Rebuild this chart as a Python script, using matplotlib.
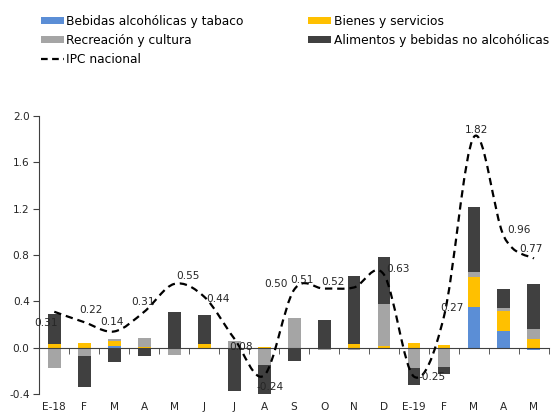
import numpy as np
import matplotlib
matplotlib.use("Agg")
import matplotlib.pyplot as plt
from matplotlib.path import Path
from matplotlib.patches import PathPatch
from matplotlib.lines import Line2D

months = ["E-18", "F", "M", "A", "M", "J", "J", "A", "S", "O", "N", "D",
          "E-19", "F", "M", "A", "M"]

bebidas = [0.0, 0.0, 0.012, 0.0, 0.0, 0.0, 0.0, 0.0, 0.0, 0.0, 0.0, 0.0,
           0.0, 0.0, 0.351, 0.141, -0.02]
bienes = [0.03, 0.043, 0.045, 0.01, 0.0, 0.03, 0.0, 0.01, 0.0, 0.0, 0.028, 0.012,
          0.037, 0.02, 0.259, 0.173, 0.072]
recreacion = [-0.174, -0.072, 0.017, 0.074, -0.064, 0.0, 0.06, -0.15, 0.253, -0.017, -0.023, 0.368,
              -0.178, -0.17, 0.043, 0.029, 0.092]
alimentos = [0.26, -0.267, -0.12, -0.07, 0.307, 0.248, -0.374, -0.26, -0.112, 0.236, 0.595, 0.40,
             -0.144, -0.057, 0.565, 0.164, 0.389]

ipc = [0.31, 0.22, 0.14, 0.31, 0.55, 0.44, 0.08, -0.24, 0.50, 0.51, 0.52, 0.63,
       -0.25, 0.27, 1.82, 0.96, 0.77]

series_names = ["Bebidas alcohólicas y tabaco", "Bienes y servicios",
                "Recreación y cultura", "Alimentos y bebidas no alcohólicas"]
colors = ["#5B8ED6", "#FFC000", "#A5A5A5", "#404040"]

# label offsets (points) for the IPC values
label_off = [(-6, -8), (5, 9), (-2, 7), (-1, 7), (10, 6), (10, -2), (5, -6), (4, -8),
             (-13, 4), (-16, 6), (-15, 4), (10, 4), (13, 0), (6, 6), (2, 5), (11, 5), (-2, 7)]

plt.rcParams['font.family'] = ['DejaVu Sans']
fs = 7.6

fig = plt.figure(figsize=(5.55, 4.12), dpi=100)
ax = fig.add_axes([0.0708, 0.0437, 0.9182, 0.6747])

x = np.arange(len(months))
pos_base = np.zeros(len(months))
neg_base = np.zeros(len(months))
handles = []
for vals, name, c in zip([bebidas, bienes, recreacion, alimentos], series_names, colors):
    v = np.array(vals)
    bottom = np.where(v >= 0, pos_base, neg_base)
    b = ax.bar(x, v, 0.43, bottom=bottom, color=c, label=name, zorder=2)
    handles.append(b)
    pos_base = pos_base + np.where(v > 0, v, 0)
    neg_base = neg_base + np.where(v < 0, v, 0)

# smoothed IPC line (bezier through the points, like the spreadsheet smooth line)
y = np.array(ipc)
verts = [(x[0], y[0])]
codes = [Path.MOVETO]
n = len(y)
for i in range(n - 1):
    p0 = np.array([x[max(i - 1, 0)], y[max(i - 1, 0)]])
    p1 = np.array([x[i], y[i]])
    p2 = np.array([x[i + 1], y[i + 1]])
    p3 = np.array([x[min(i + 2, n - 1)], y[min(i + 2, n - 1)]])
    c1 = p1 + (p2 - p0) / 6
    c2 = p2 - (p3 - p1) / 6
    verts += [tuple(c1), tuple(c2), tuple(p2)]
    codes += [Path.CURVE4] * 3
line = PathPatch(Path(verts, codes), facecolor="none", edgecolor="black",
                 lw=1.6, linestyle=(0, (3.3, 2.2)), zorder=3)
ax.add_patch(line)

for xi, yi, lab_off in zip(x, ipc, label_off):
    ax.annotate(f"{yi:.2f}", (xi, yi), xytext=lab_off, textcoords="offset points",
                ha="center", va="center", fontsize=fs, color="#262626", zorder=4)

ax.set_xlim(-0.5, len(months) - 0.5)
ax.set_ylim(-0.4, 2.0)
ax.set_yticks(np.arange(-0.4, 2.01, 0.4))
ax.set_yticklabels([f"{t:.1f}" for t in np.arange(-0.4, 2.01, 0.4)])
ax.set_xticks(x)
ax.set_xticklabels(months)
ax.set_xticks(np.arange(-0.5, len(months), 1.0), minor=True)

for s in ["right", "bottom"]:
    ax.spines[s].set_visible(False)
ax.spines["left"].set_color("#404040")
ax.spines["top"].set_position(("data", 0))
ax.spines["top"].set_color("#404040")
ax.spines["top"].set_zorder(2.5)

ax.tick_params(axis="y", direction="out", length=4, color="#404040", labelsize=fs,
               labelcolor="#262626", pad=3)
ax.tick_params(axis="x", which="major", length=0, labelsize=fs, labelcolor="#262626",
               pad=6, top=False, bottom=True)
ax.tick_params(axis="x", which="minor", length=4, direction="in", color="#404040",
               top=True, bottom=False)

ipc_handle = Line2D([], [], color="black", lw=1.6, linestyle=(0, (3.0, 2.0)))
leg_handles = [handles[0], handles[2], ipc_handle, handles[1], handles[3]]
leg_labels = [series_names[0], series_names[2], "IPC nacional", series_names[1], series_names[3]]
fig.legend(leg_handles, leg_labels, ncol=2, loc="upper left",
           bbox_to_anchor=(0.0645, 0.976), frameon=False, fontsize=8.8,
           handlelength=1.9, handleheight=0.45, handletextpad=0.17,
           columnspacing=5.3, labelspacing=0.5, borderaxespad=0)

fig.savefig("out.png", dpi=100)
